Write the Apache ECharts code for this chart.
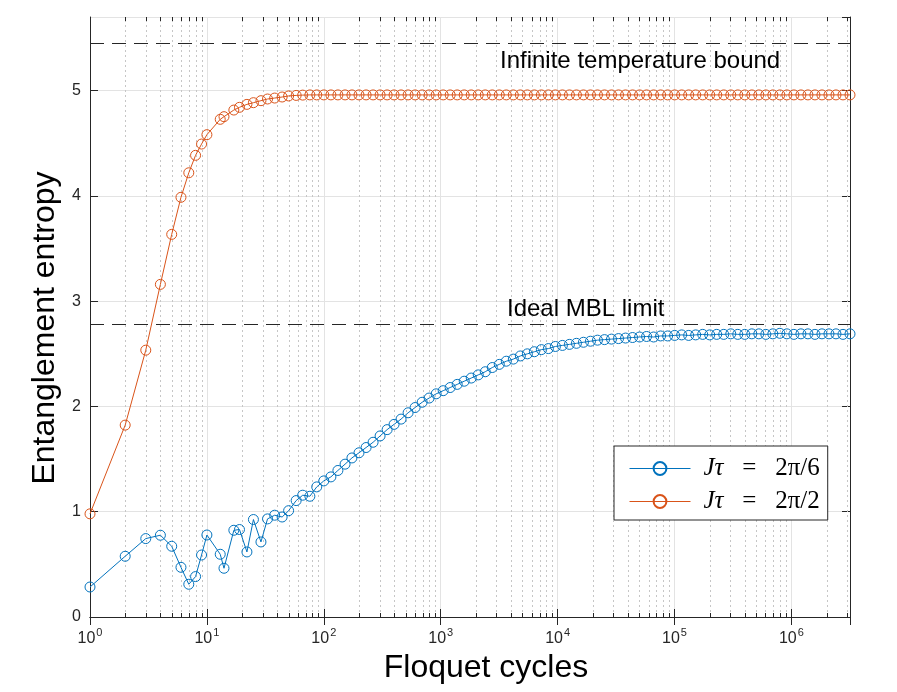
<!DOCTYPE html>
<html>
<head>
<meta charset="utf-8">
<script src="https://cdn.jsdelivr.net/npm/echarts@6/dist/echarts.min.js"></script>
<style>
  html, body { margin: 0; padding: 0; background: #fff; }
  #chart { width: 897px; height: 692px; }
</style>
</head>
<body>
<div id="chart"></div>
<script>
// Floquet cycles (log-spaced sampling)
const cycles = [
  1, 2, 3, 4, 5, 6, 7, 8, 9, 10,
  13, 14, 17, 19, 22, 25, 29, 33, 38, 44, 50, 58, 66, 76, 87, 100, 115, 132, 152, 174, 200,
  230, 264, 303, 348, 399, 458, 526, 604, 694, 796, 914, 1050, 1205, 1384, 1589, 1824, 2094, 2405, 2761, 3170,
  3639, 4179, 4798, 5509, 6325, 7262, 8338, 9573, 10991, 12621, 14489, 16637, 19101, 21930, 25179, 28909, 33193, 38109, 43754, 50237,
  57673, 66239, 76035, 87314, 100250, 115095, 132151, 151719, 174200, 200023, 229638, 263675, 302734, 347572, 399066, 458171, 526067, 603986, 693460, 796197,
  914060, 1049816, 1205079, 1383830, 1588857, 1824140, 2094457, 2404584, 2760893, 3170150
];

// J tau = 2 pi / 6
const entropySlow = [
  0.285, 0.577, 0.745, 0.777, 0.672, 0.472, 0.311, 0.384, 0.589, 0.779,
  0.596, 0.463, 0.824, 0.831, 0.618, 0.926, 0.713, 0.932, 0.967, 0.95, 1.01, 1.106, 1.157, 1.147, 1.236, 1.293, 1.331, 1.392, 1.452, 1.511, 1.56,
  1.61, 1.66, 1.72, 1.78, 1.83, 1.88, 1.94, 1.99, 2.04, 2.08, 2.12, 2.15, 2.18, 2.21, 2.24, 2.27, 2.30, 2.33, 2.37, 2.40,
  2.43, 2.45, 2.48, 2.50, 2.52, 2.54, 2.55, 2.57, 2.58, 2.59, 2.60, 2.61, 2.62, 2.63, 2.635, 2.64, 2.645, 2.65, 2.655, 2.66,
  2.665, 2.66, 2.67, 2.67, 2.675, 2.68, 2.675, 2.68, 2.685, 2.68, 2.685, 2.685, 2.69, 2.685, 2.685, 2.69, 2.69, 2.685, 2.69, 2.695,
  2.69, 2.685, 2.69, 2.69, 2.685, 2.69, 2.69, 2.69, 2.685, 2.69
];

// J tau = 2 pi / 2
const entropyFast = [
  0.98, 1.823, 2.535, 3.16, 3.635, 3.987, 4.22, 4.386, 4.493, 4.582,
  4.728, 4.753, 4.816, 4.842, 4.87, 4.886, 4.905, 4.921, 4.93, 4.94, 4.95, 4.955, 4.958, 4.96, 4.96, 4.96, 4.96, 4.96, 4.96, 4.96, 4.96,
  4.96, 4.96, 4.96, 4.96, 4.96, 4.96, 4.96, 4.96, 4.96, 4.96,
  4.96, 4.96, 4.96, 4.96, 4.96, 4.96, 4.96, 4.96, 4.96, 4.96,
  4.96, 4.96, 4.96, 4.96, 4.96, 4.96, 4.96, 4.96, 4.96, 4.96,
  4.96, 4.96, 4.96, 4.96, 4.96, 4.96, 4.96, 4.96, 4.96, 4.96,
  4.96, 4.96, 4.96, 4.96, 4.96, 4.96, 4.96, 4.96, 4.96, 4.96,
  4.96, 4.96, 4.96, 4.96, 4.96, 4.96, 4.96, 4.96, 4.96, 4.96,
  4.96, 4.96, 4.96, 4.96, 4.96, 4.96, 4.96, 4.96, 4.96, 4.96
];

const seriesNames = ['J\u03c4 = 2\u03c0/6', 'J\u03c4 = 2\u03c0/2'];
const infiniteTempBound = 5.45;
const idealMblLimit = 2.78;
const xMin = 1, xMax = 3170150;
const yMin = 0, yMax = 5.7, yStep = 1;

const axisColor = '#262626';
const blue = '#0072BD';
const orange = '#D95319';

// minor log ticks 2..9 x 10^k
const minorTicks = [];
for (let e = 0; e <= 6; e++) {
  for (let m = 2; m <= 9; m++) {
    const v = m * Math.pow(10, e);
    if (v < xMax) minorTicks.push([v, yMin]);
  }
}

const chart = echarts.init(document.getElementById('chart'));

function toPairs(ys) {
  return cycles.map((c, i) => [c, ys[i]]);
}

function lineSeries(name, ys, color, extra) {
  return Object.assign({
    name: name,
    type: 'line',
    data: toPairs(ys),
    symbol: 'circle',
    symbolSize: 10,
    showAllSymbol: true,
    lineStyle: { color: color, width: 1 },
    itemStyle: { color: 'rgba(255,255,255,0)', borderColor: color, borderWidth: 1 },
    z: 5
  }, extra || {});
}

const options = {
  animation: false,
  grid: { left: 90, right: 47, top: 17, bottom: 75, containLabel: false },
  legend: {
    data: seriesNames,
    orient: 'vertical',
    left: 614,
    top: 446,
    padding: [10, 8, 6, 15],
    itemWidth: 61,
    itemHeight: 16,
    itemGap: 8,
    backgroundColor: '#fff',
    borderColor: axisColor,
    borderWidth: 1,
    borderRadius: 0,
    lineStyle: { width: 1 },
    formatter: name => {
      const parts = name.split(' = ');
      return '{m|' + parts[0] + '}{r|   =   ' + parts[1] + '}';
    },
    textStyle: {
      padding: [0, 0, 0, 8],
      rich: {
        m: { fontFamily: 'Liberation Serif', fontStyle: 'italic', fontSize: 25, color: '#000', lineHeight: 24 },
        r: { fontFamily: 'Liberation Serif', fontSize: 25, color: '#000', lineHeight: 24 }
      }
    }
  },
  xAxis: [
    {
      type: 'log',
      logBase: 10,
      min: xMin,
      max: xMax,
      name: 'Floquet cycles',
      nameLocation: 'middle',
      nameGap: 31,
      nameTextStyle: { fontFamily: 'Liberation Sans', fontSize: 32, color: '#000', padding: [0, 0, 0, 32] },
      axisLine: { show: true, lineStyle: { color: axisColor, width: 1 } },
      axisTick: { show: true, inside: true, length: 8, lineStyle: { color: axisColor } },
      splitLine: { show: true, lineStyle: { color: '#e3e3e3', width: 1 } },
      axisLabel: {
        margin: 10,
        showMaxLabel: false,
        formatter: v => {
          const e = Math.round(Math.log10(v));
          if (Math.abs(Math.pow(10, e) - v) / v > 1e-6) return '';
          return '{b|10}{s|' + e + '}';
        },
        rich: {
          b: { fontFamily: 'Liberation Sans', fontSize: 16, color: axisColor, verticalAlign: 'bottom' },
          s: { fontFamily: 'Liberation Sans', fontSize: 11, color: axisColor, verticalAlign: 'bottom', padding: [0, 0, 9, 1] }
        }
      }
    },
    {
      type: 'log',
      logBase: 10,
      min: xMin,
      max: xMax,
      position: 'top',
      axisLine: { show: true, lineStyle: { color: axisColor, width: 1 } },
      axisTick: { show: true, inside: true, length: 8, lineStyle: { color: axisColor } },
      axisLabel: { show: false },
      splitLine: { show: false }
    }
  ],
  yAxis: [
    {
      type: 'value',
      min: yMin,
      max: yMax,
      interval: yStep,
      name: 'Entanglement entropy',
      nameLocation: 'middle',
      nameGap: 29,
      nameTextStyle: { fontFamily: 'Liberation Sans', fontSize: 32, color: '#000', padding: [0, 22, 0, 0] },
      axisLine: { show: true, lineStyle: { color: axisColor, width: 1 } },
      axisTick: { show: true, inside: true, length: 8, lineStyle: { color: axisColor } },
      splitLine: { show: true, lineStyle: { color: '#e3e3e3', width: 1 } },
      axisLabel: {
        showMaxLabel: false,
        margin: 9,
        fontFamily: 'Liberation Sans',
        fontSize: 16,
        color: axisColor
      }
    },
    {
      type: 'value',
      min: yMin,
      max: yMax,
      interval: yStep,
      position: 'right',
      axisLine: { show: true, lineStyle: { color: axisColor, width: 1 } },
      axisTick: { show: true, inside: true, length: 8, lineStyle: { color: axisColor } },
      axisLabel: { show: false },
      splitLine: { show: false }
    }
  ],
  graphic: [
    {
      type: 'text',
      left: 500,
      top: 49,
      z: 100,
      style: { text: 'Infinite temperature bound', font: '24px "Liberation Sans"', fill: '#000' }
    },
    {
      type: 'text',
      left: 507,
      top: 297,
      z: 100,
      style: { text: 'Ideal MBL limit', font: '24px "Liberation Sans"', fill: '#000' }
    }
  ],
  series: [
    {
      name: 'minor grid',
      type: 'custom',
      silent: true,
      data: minorTicks,
      encode: { x: 0, y: 1 },
      z: 1,
      renderItem: (params, api) => {
        const bottom = api.coord([api.value(0), yMin]);
        const top = api.coord([api.value(0), yMax]);
        const x = Math.round(bottom[0]) + 0.5;
        return {
          type: 'group',
          children: [
            { type: 'line', shape: { x1: x, y1: bottom[1], x2: x, y2: top[1] },
              style: { stroke: '#c6c6c6', lineWidth: 1, lineDash: [2, 3] } },
            { type: 'line', shape: { x1: x, y1: bottom[1], x2: x, y2: bottom[1] - 4 },
              style: { stroke: axisColor, lineWidth: 1 } },
            { type: 'line', shape: { x1: x, y1: top[1], x2: x, y2: top[1] + 4 },
              style: { stroke: axisColor, lineWidth: 1 } }
          ]
        };
      }
    },
    lineSeries(seriesNames[0], entropySlow, blue, {
      markLine: {
        silent: true,
        symbol: 'none',
        label: { show: false },
        lineStyle: { color: axisColor, width: 1, type: [14, 8] },
        data: [{ yAxis: infiniteTempBound }, { yAxis: idealMblLimit }]
      }
    }),
    lineSeries(seriesNames[1], entropyFast, orange)
  ]
};

chart.setOption(options);
</script>
</body>
</html>
